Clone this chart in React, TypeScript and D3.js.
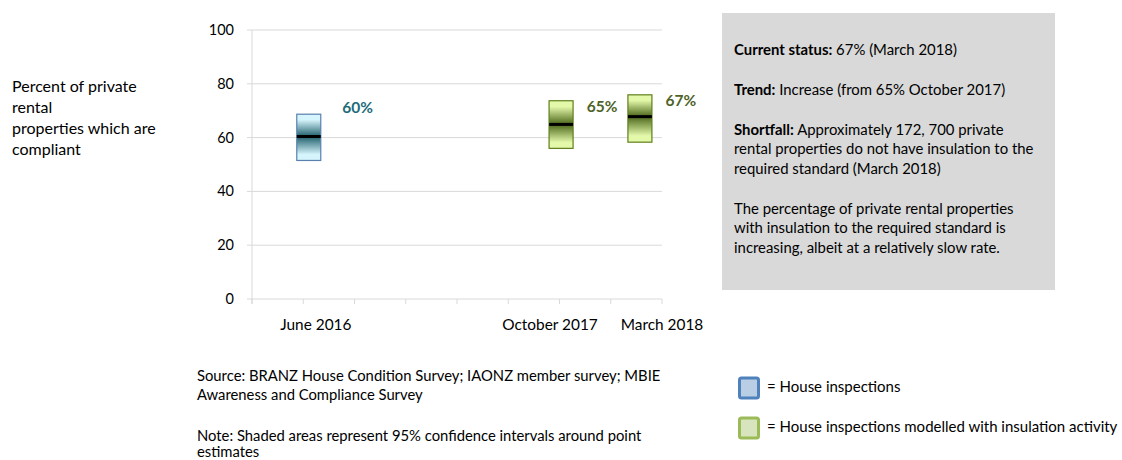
import React from "react";
import * as d3 from "d3";

// ---- data ----
const periods = ["June 2016", "October 2017", "March 2018"];
const periodMonth = [0, 16, 21]; // months since June 2016
const pointValues = [60.4, 64.9, 67.8];
const ciLower = [51.5, 56.0, 58.3];
const ciUpper = [68.7, 73.7, 75.9];
const pointLabels = ["60%", "65%", "67%"];
const labelMonth = [3.1, 18.6, 23.6];
const labelValue = [71.1, 71.5, 73.7];
const seriesType = ["inspect", "modelled", "modelled"];
const axisLabelMonth = [0.45, 15.3, 22.4];
const yTicks = [0, 20, 40, 60, 80, 100];
const yTitleLines = ["Percent of private", "rental", "properties which are", "compliant"];
const legendItems = ["= House inspections", "= House inspections modelled with insulation activity"];
const sourceLines = [
  "Source: BRANZ House Condition Survey; IAONZ member survey; MBIE",
  "Awareness and Compliance Survey",
];
const noteLines = ["Note: Shaded areas represent 95% confidence intervals around point", "estimates"];

const FONT = "Lato, 'Open Sans', sans-serif";

const palette: Record<string, { light: string; dark: string; stroke: string; label: string; lfill: string; lstroke: string }> = {
  inspect: { light: "#d6f4fb", dark: "#1f5f6c", stroke: "#5a80b0", label: "#1e6b7b", lfill: "#b9cde5", lstroke: "#4f81bd" },
  modelled: { light: "#e4f8aa", dark: "#4b6619", stroke: "#5f7f1c", label: "#4f6228", lfill: "#d7e4bd", lstroke: "#9bbb59" },
};

export default function App() {
  const W = 1122, H = 460;
  const x = d3.scaleLinear().domain([-3.6, 22.4]).range([252, 662]);
  const y = d3.scaleLinear().domain([0, 100]).range([299, 30]);
  const xTickPositions = d3.range(9).map((i) => 252 + (i * (662 - 252)) / 8);
  const boxW = 24;

  return (
    <svg width={W} height={H} style={{ position: "absolute", left: 0, top: 0, fontFamily: FONT }}>
      <defs>
        {Object.keys(palette).map((k) => (
          <React.Fragment key={k}>
            <linearGradient id={`up-${k}`} x1="0" y1="0" x2="0" y2="1">
              <stop offset="0" stopColor={palette[k].light} />
              <stop offset="0.25" stopColor={palette[k].light} />
              <stop offset="1" stopColor={palette[k].dark} />
            </linearGradient>
            <linearGradient id={`down-${k}`} x1="0" y1="0" x2="0" y2="1">
              <stop offset="0" stopColor={palette[k].dark} />
              <stop offset="0.75" stopColor={palette[k].light} />
              <stop offset="1" stopColor={palette[k].light} />
            </linearGradient>
          </React.Fragment>
        ))}
      </defs>

      {/* grid */}
      {yTicks.map((t) => (
        <g key={t}>
          <line x1={247} x2={662} y1={y(t)} y2={y(t)} stroke="#d9d9d9" strokeWidth={1} />
          <text x={234} y={y(t)} dy="0.35em" textAnchor="end" fontSize={14.5} fill="#000">
            {t}
          </text>
        </g>
      ))}
      <line x1={252} x2={252} y1={y(100)} y2={304} stroke="#d9d9d9" />
      {xTickPositions.map((p, i) => (
        <line key={i} x1={p} x2={p} y1={299} y2={304} stroke="#d9d9d9" />
      ))}
      {periods.map((p, i) => (
        <text key={p} x={x(axisLabelMonth[i])} y={330} textAnchor="middle" fontSize={15.4} fill="#000">
          {p}
        </text>
      ))}

      {/* boxes */}
      {periods.map((p, i) => {
        const c = palette[seriesType[i]];
        const cx = x(periodMonth[i]);
        const x0 = cx - boxW / 2;
        return (
          <g key={p}>
            <rect x={x0} y={y(ciUpper[i])} width={boxW} height={y(pointValues[i]) - y(ciUpper[i])} fill={`url(#up-${seriesType[i]})`} />
            <rect x={x0} y={y(pointValues[i])} width={boxW} height={y(ciLower[i]) - y(pointValues[i])} fill={`url(#down-${seriesType[i]})`} />
            <rect x={x0} y={y(ciUpper[i])} width={boxW} height={y(ciLower[i]) - y(ciUpper[i])} fill="none" stroke={c.stroke} strokeWidth={1.2} />
            <line x1={x0} x2={x0 + boxW} y1={y(pointValues[i])} y2={y(pointValues[i])} stroke="#000" strokeWidth={3} />
            <text x={x(labelMonth[i])} y={y(labelValue[i])} dy="0.35em" textAnchor="middle" fontSize={15.5} fontWeight="bold" fill={c.label}>
              {pointLabels[i]}
            </text>
          </g>
        );
      })}

      {/* y title */}
      {yTitleLines.map((l, i) => (
        <text key={i} x={12} y={92 + i * 21} fontSize={16} fill="#000">
          {l}
        </text>
      ))}

      {/* info box */}
      <rect x={722} y={13} width={333} height={277} fill="#d9d9d9" />
      <g fontSize={14.9} fill="#000">
        <text x={734} y={55}>
          <tspan fontWeight="bold">Current status:</tspan> 67% (March 2018)
        </text>
        <text x={734} y={95}>
          <tspan fontWeight="bold">Trend:</tspan> Increase (from 65% October 2017)
        </text>
        <text x={734} y={135}>
          <tspan fontWeight="bold">Shortfall:</tspan> Approximately 172, 700 private
        </text>
        <text x={734} y={154}>rental properties do not have insulation to the</text>
        <text x={734} y={174}>required standard (March 2018)</text>
        <text x={734} y={214}>The percentage of private rental properties</text>
        <text x={734} y={233}>with insulation to the required standard is</text>
        <text x={734} y={253}>increasing, albeit at a relatively slow rate.</text>
      </g>

      {/* source & note */}
      <g fontSize={14.8} fill="#000">
        {sourceLines.map((l, i) => (
          <text key={"s" + i} x={197} y={381 + i * 19}>
            {l}
          </text>
        ))}
        {noteLines.map((l, i) => (
          <text key={"n" + i} x={197} y={441 + i * 16}>
            {l}
          </text>
        ))}
      </g>

      {/* legend */}
      {legendItems.map((l, i) => {
        const c = palette[i === 0 ? "inspect" : "modelled"];
        const ly = 378 + i * 40;
        return (
          <g key={l}>
            <rect x={739.5} y={ly} width={19} height={20} rx={2} fill={c.lfill} stroke={c.lstroke} strokeWidth={3} />
            <text x={767} y={ly + 14} fontSize={15} fill="#000">
              {l}
            </text>
          </g>
        );
      })}
    </svg>
  );
}
